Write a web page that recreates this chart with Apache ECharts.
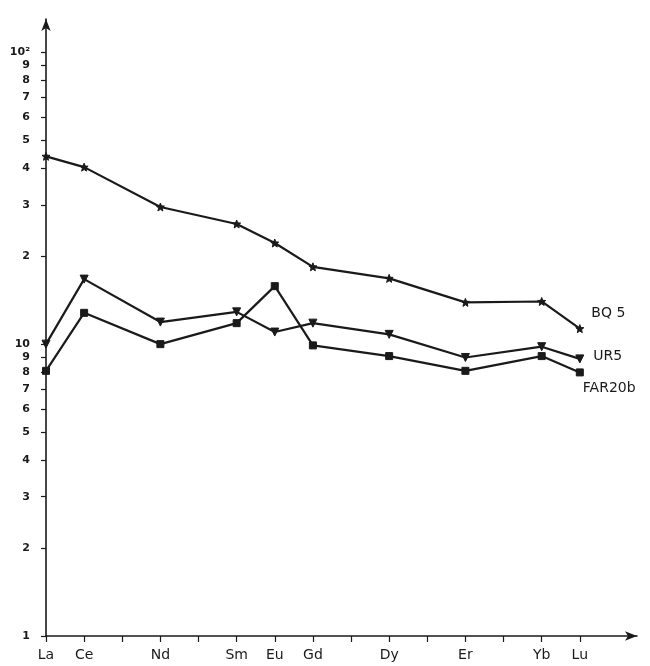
<!DOCTYPE html>
<html>
<head>
<meta charset="utf-8">
<script src="https://cdn.jsdelivr.net/npm/echarts@6/dist/echarts.min.js"></script>
<style>
  html, body { margin: 0; padding: 0; background: #fff; }
  #chart { width: 650px; height: 666px; }
</style>
</head>
<body>
<div id="chart"></div>
<script>
// REE elements and their atomic numbers (x positions)
const elements = ['La', 'Ce', 'Nd', 'Sm', 'Eu', 'Gd', 'Dy', 'Er', 'Yb', 'Lu'];
const atomicNumbers = [57, 58, 60, 62, 63, 64, 66, 68, 70, 71];
const allTicks = [57, 58, 59, 60, 61, 62, 63, 64, 65, 66, 67, 68, 69, 70, 71];

// Chondrite-normalised abundances
const bq5 = [44.0, 40.4, 29.5, 25.8, 22.2, 18.4, 16.8, 13.9, 14.0, 11.3];
const ur5 = [10.0, 16.7, 11.9, 12.9, 11.0, 11.8, 10.8, 9.0, 9.8, 8.9];
const far20b = [8.1, 12.8, 10.0, 11.8, 15.8, 9.9, 9.1, 8.1, 9.1, 8.0];

// Log-axis ticks and labels
const yTicks = [1, 2, 3, 4, 5, 6, 7, 8, 9, 10, 20, 30, 40, 50, 60, 70, 80, 90, 100];
const yTickLabels = ['1', '2', '3', '4', '5', '6', '7', '8', '9', '10', '2', '3', '4', '5', '6', '7', '8', '9', '10²'];

const seriesNames = ['BQ 5', 'UR5', 'FAR20b'];
const seriesLabelOffsets = [[2, -15], [4, -3], [-6, 16]];

const font = '"DejaVu Sans", "Liberation Sans", sans-serif';
const ink = '#1a1a1a';

function toPoints(values, idx) {
  return values.map((v, i) => {
    const pt = { value: [atomicNumbers[i], v] };
    if (i === values.length - 1) {
      pt.label = {
        show: true,
        position: 'right',
        formatter: seriesNames[idx],
        offset: seriesLabelOffsets[idx],
        color: ink,
        fontFamily: font,
        fontSize: 14
      };
    }
    return pt;
  });
}

const symbols = [
  { symbol: 'path://M0,-10 L2.6,-3.5 L9.5,-3.1 L4.2,1.4 L5.9,8.1 L0,4.4 L-5.9,8.1 L-4.2,1.4 L-9.5,-3.1 L-2.6,-3.5 Z', size: 8, rotate: 0 },
  { symbol: 'triangle', size: 8, rotate: 180 },
  { symbol: 'rect', size: 7, rotate: 0 }
];

const chart = echarts.init(document.getElementById('chart'), null, { renderer: 'canvas' });
chart.setOption({
  backgroundColor: '#fff',
  animation: false,
  grid: { left: 46, right: 13, top: 19, bottom: 30, containLabel: false },
  xAxis: {
    type: 'value',
    min: 57,
    max: 72.5,
    axisLine: {
      show: true,
      onZero: false,
      symbol: ['none', 'arrow'],
      symbolSize: [7, 12],
      lineStyle: { color: ink, width: 1.6 }
    },
    axisTick: {
      show: true,
      inside: false,
      length: 6,
      customValues: allTicks,
      lineStyle: { color: ink, width: 1.2 }
    },
    axisLabel: {
      customValues: atomicNumbers,
      formatter: v => elements[atomicNumbers.indexOf(Math.round(v))] || '',
      color: ink,
      fontFamily: font,
      fontSize: 14,
      margin: 12
    },
    splitLine: { show: false }
  },
  yAxis: {
    type: 'log',
    logBase: 10,
    min: 1,
    max: 130,
    axisLine: {
      show: true,
      onZero: false,
      symbol: ['none', 'arrow'],
      symbolSize: [7, 12],
      lineStyle: { color: ink, width: 1.6 }
    },
    axisTick: {
      show: true,
      length: 5,
      customValues: yTicks,
      lineStyle: { color: ink, width: 1.2 }
    },
    axisLabel: {
      customValues: yTicks,
      formatter: v => {
        const i = yTicks.findIndex(t => Math.abs(t - v) < 1e-6 * t);
        return i >= 0 ? yTickLabels[i] : '';
      },
      color: ink,
      fontFamily: font,
      fontSize: 11,
      fontWeight: 'bold',
      margin: 16
    },
    splitLine: { show: false },
    minorTick: { show: false }
  },
  series: [bq5, ur5, far20b].map((vals, idx) => ({
    name: seriesNames[idx],
    type: 'line',
    data: toPoints(vals, idx),
    symbol: symbols[idx].symbol,
    symbolSize: symbols[idx].size,
    symbolRotate: symbols[idx].rotate,
    showAllSymbol: true,
    lineStyle: { color: ink, width: 2.2 },
    itemStyle: { color: ink, borderColor: ink },
    emphasis: { disabled: true },
    z: 3
  }))
});
</script>
</body>
</html>
